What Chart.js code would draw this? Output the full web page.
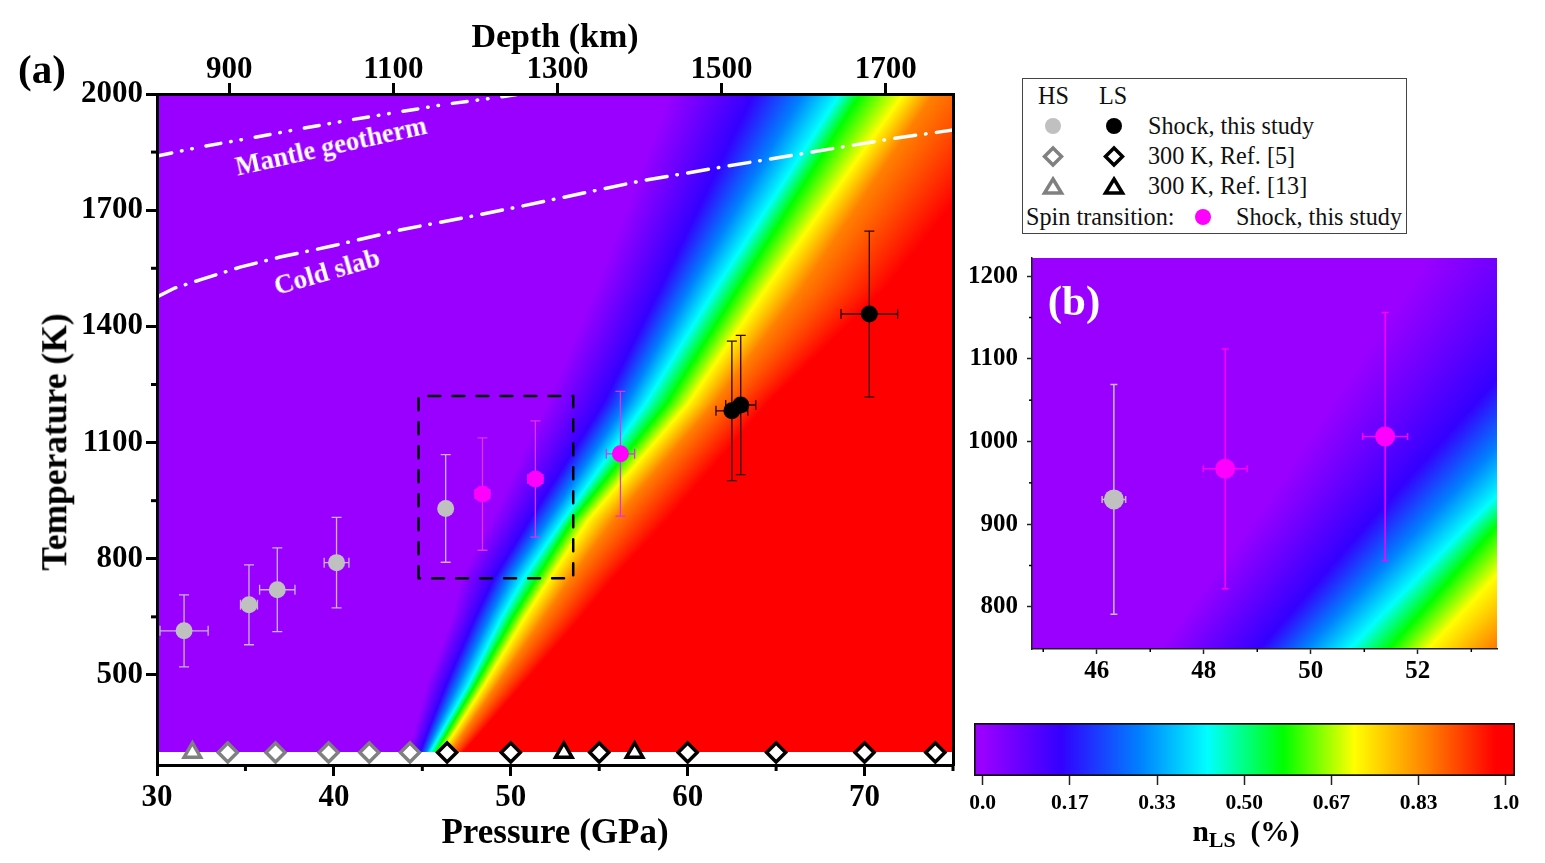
<!DOCTYPE html>
<html>
<head>
<meta charset="utf-8">
<title>Spin transition</title>
<script src="https://cdn.jsdelivr.net/npm/chart.js@4/dist/chart.umd.js"></script>
<style>
  html, body { margin: 0; padding: 0; background: #fff; overflow: hidden; }
  body { width: 1545px; height: 863px; position: relative; font-family: "Liberation Serif", serif; }
  canvas { position: absolute; display: block; }
  .txt { position: absolute; white-space: nowrap; transform: translate(-50%, -50%); line-height: 1; }
  .b { font-weight: bold; }
  .wht { color: #fff; }
  #legend { position: absolute; left: 1022px; top: 78px; width: 383px; height: 154px; border: 1px solid #444; box-sizing: content-box; }
  #legend .row { position: absolute; font-size: 24.2px; line-height: 1; white-space: nowrap; color: #111; transform: translateY(-50%); }
  #legend svg { position: absolute; overflow: visible; }
</style>
</head>
<body>
<canvas id="mainChart" width="1000" height="863" style="left:0;top:0"></canvas>
<canvas id="insetChart" width="550" height="462" style="left:960px;top:238px"></canvas>
<canvas id="barChart" width="575" height="115" style="left:960px;top:715px"></canvas>

<div class="txt b" style="left:42px;top:69px;font-size:41px">(a)</div>
<div class="txt b wht" style="left:1074px;top:300px;font-size:43px">(b)</div>
<div class="txt b" style="left:55px;top:442px;font-size:35.5px;transform:translate(-50%,-50%) rotate(-90deg)">Temperature (K)</div>
<div class="txt b wht" style="left:331px;top:146px;font-size:26.5px;transform:translate(-50%,-50%) rotate(-12.5deg)">Mantle geotherm</div>
<div class="txt b wht" style="left:327px;top:272px;font-size:27px;transform:translate(-50%,-50%) rotate(-16deg)">Cold slab</div>
<div class="txt b" style="left:1246px;top:834px;font-size:29.5px">n<sub style="font-size:22px">LS</sub>&nbsp;&nbsp;(%)</div>

<div id="legend">
  <div class="row" style="left:15px;top:17px">HS</div>
  <div class="row" style="left:76px;top:17px">LS</div>
  <div class="row" style="left:125px;top:47px">Shock, this study</div>
  <div class="row" style="left:125px;top:77px">300 K, Ref. [5]</div>
  <div class="row" style="left:125px;top:107px">300 K, Ref. [13]</div>
  <div class="row" style="left:3px;top:138px">Spin transition:</div>
  <div class="row" style="left:213px;top:138px">Shock, this study</div>
  <svg style="left:0;top:0" width="383" height="154">
    <circle cx="30" cy="47" r="8" fill="#c0c0c0"/>
    <circle cx="91" cy="47" r="8" fill="#000"/>
    <path d="M30 69 L38.5 77.5 L30 86 L21.5 77.5 Z" fill="#fff" stroke="#808080" stroke-width="3.5"/>
    <path d="M91 69 L99.5 77.5 L91 86 L82.5 77.5 Z" fill="#fff" stroke="#000" stroke-width="3.5"/>
    <path d="M30 100 L38.5 114 L21.5 114 Z" fill="#fff" stroke="#808080" stroke-width="3.5"/>
    <path d="M91 100 L99.5 114 L82.5 114 Z" fill="#fff" stroke="#000" stroke-width="3.5"/>
    <circle cx="180" cy="138" r="8" fill="#ff00ff"/>
  </svg>
</div>

<script>
// Shock data
const hsP = [31.53, 35.2, 36.8, 40.15, 46.32];
const hsT = [614, 681, 720, 790, 930];
const hsPErr = [1.36, 0.48, 1.0, 0.7, 0.22];
const hsTErr = [93, 103, 108, 117, 139];

const spinP = [48.4, 51.39, 56.2];
const spinT = [967, 1006, 1071];
const spinPErr = [0.41, 0.42, 0.8];
const spinTErr = [145, 150, 161];

const lsP = [62.5, 63.0, 70.27];
const lsT = [1182, 1197, 1432];
const lsPErr = [0.9, 0.85, 1.6];
const lsTErr = [180, 180, 214];

// 300 K references
const hsDiamondP = [34, 36.7, 39.7, 42, 44.3];
const lsDiamondP = [46.4, 50, 55, 60, 65, 70, 74];
const hsTriangleP = [32];
const lsTriangleP = [53, 57];
const roomT = 300;

// Geotherms
const mantleP = [30, 32.43, 35.26, 38.09, 40.92, 43.74, 46.4, 49.4, 50.53];
const mantleT = [1840, 1863, 1886, 1910, 1933, 1954, 1974, 1992, 2000];
const slabP = [30, 31, 32.43, 34.7, 36.96, 39.95, 43.74, 47.53, 50.36, 57.3, 62, 66.76, 71.46, 75];
const slabT = [1476, 1499, 1520, 1553, 1579, 1608, 1649, 1682, 1708, 1775, 1812, 1848, 1884, 1907];

// Zoom box of panel (b)
const boxP = [44.78, 44.78, 53.53, 53.53, 44.78];
const boxT = [750, 1220, 1220, 750, 750];

// nLS contours: pressure (GPa) of each level at each temperature row
const contourT = [300, 365, 470, 650, 750, 900, 1200, 1500, 2000];
const contourLevels = [0, 0.15, 0.30, 0.43, 0.575, 0.71, 0.85, 0.98];
const contourColors = ['#9900ff', '#3300ff', '#0080ff', '#00ffff', '#00ff00', '#ffff00', '#ff8000', '#ff0000'];
const contourP = [
  [44.2, 44.6, 45.2, 46.7, 47.2, 48.9, 52.0, 54.8, 59.0],
  [44.88, 45.4, 46.3, 48.0, 49.05, 51.05, 55.2, 58.45, 63.7],
  [45.2, 45.85, 46.95, 48.8, 49.9, 52.1, 56.5, 60.1, 66.5],
  [45.44, 46.25, 47.55, 49.5, 50.73, 52.95, 57.6, 61.6, 68.6],
  [45.75, 46.57, 47.93, 50.13, 51.48, 53.5, 58.8, 62.9, 69.76],
  [46.05, 47.0, 48.44, 50.8, 52.2, 54.35, 60.0, 64.45, 72.2],
  [46.6, 47.56, 49.15, 51.9, 53.4, 55.8, 61.5, 66.5, 73.9],
  [47.3, 48.56, 50.55, 54.0, 55.8, 58.85, 64.5, 71.2, 80.0]
];

// Axis ticks
const pressureTicks = [30, 40, 50, 60, 70];
const pressureMinor = [35, 45, 55, 65, 75];
const depthTicks = [900, 1100, 1300, 1500, 1700];
const tempTicks = [500, 800, 1100, 1400, 1700, 2000];
const tempMinor = [650, 950, 1250, 1550, 1850];
const insetPTicks = [46, 48, 50, 52];
const insetPMinor = [45, 47, 49, 51, 53];
const insetTTicks = [800, 900, 1000, 1100, 1200];
const insetTMinor = [850, 950, 1050, 1150];
const barTicks = [0, 1 / 6, 1 / 3, 1 / 2, 2 / 3, 5 / 6, 1];
const barLabels = ['0.0', '0.17', '0.33', '0.50', '0.67', '0.83', '1.0'];

const SERIF = '"Liberation Serif", serif';

function zip(xs, ys) {
  return xs.map((x, i) => ({ x: x, y: ys[i] }));
}

function atRoomT(ps) {
  return ps.map(p => ({ x: p, y: roomT }));
}

function setTicks(values) {
  return scale => { scale.ticks = values.map(v => ({ value: v })); };
}

function plainLabel(v) {
  return String(v);
}

function contourAt(levelIdx, t) {
  const row = contourP[levelIdx];
  let i = 0;
  while (i < contourT.length - 2 && t > contourT[i + 1]) i++;
  const f = (t - contourT[i]) / (contourT[i + 1] - contourT[i]);
  return row[i] + (row[i + 1] - row[i]) * f;
}

// Paints the nLS map row by row, colour stops sitting on the contours
const heatmapPlugin = {
  id: 'heatmap',
  beforeDatasetsDraw(chart) {
    const { ctx, chartArea: area, scales } = chart;
    const yTop = Math.floor(area.top);
    const yEnd = Math.min(Math.round(scales.y.getPixelForValue(roomT)), Math.ceil(area.bottom));
    ctx.save();
    ctx.beginPath();
    ctx.rect(area.left, area.top, area.width, area.height);
    ctx.clip();
    for (let py = yTop; py < yEnd; py++) {
      const t = Math.max(roomT, scales.y.getValueForPixel(py + 0.5));
      const pix = contourColors.map((c, i) => scales.x.getPixelForValue(contourAt(i, t)));
      const x0 = pix[0];
      const x1 = pix[pix.length - 1];
      const grad = ctx.createLinearGradient(x0, 0, x1, 0);
      pix.forEach((x, i) => grad.addColorStop((x - x0) / (x1 - x0), contourColors[i]));
      ctx.fillStyle = grad;
      ctx.fillRect(area.left, py, area.width, 1);
    }
    ctx.restore();
  }
};

// Error bars with caps, under the markers
const errorBarPlugin = {
  id: 'errorBars',
  beforeDatasetsDraw(chart, args, opts) {
    const { ctx, chartArea: area, scales } = chart;
    ctx.save();
    ctx.beginPath();
    ctx.rect(area.left, area.top, area.width, area.height);
    ctx.clip();
    opts.groups.forEach(g => {
      ctx.strokeStyle = g.color;
      ctx.lineWidth = opts.lineWidth;
      g.p.forEach((p, i) => {
        const x = scales.x.getPixelForValue(p);
        const y = scales.y.getPixelForValue(g.t[i]);
        const xa = scales.x.getPixelForValue(p - g.pe[i]);
        const xb = scales.x.getPixelForValue(p + g.pe[i]);
        const ya = scales.y.getPixelForValue(g.t[i] - g.te[i]);
        const yb = scales.y.getPixelForValue(g.t[i] + g.te[i]);
        const c = opts.cap;
        ctx.beginPath();
        ctx.moveTo(x, ya); ctx.lineTo(x, yb);
        ctx.moveTo(x - c, ya); ctx.lineTo(x + c, ya);
        ctx.moveTo(x - c, yb); ctx.lineTo(x + c, yb);
        ctx.moveTo(xa, y); ctx.lineTo(xb, y);
        ctx.moveTo(xa, y - c); ctx.lineTo(xa, y + c);
        ctx.moveTo(xb, y - c); ctx.lineTo(xb, y + c);
        ctx.stroke();
      });
    });
    ctx.restore();
  }
};

// Short unlabelled ticks (Chart.js has one tick length per axis)
const minorTickPlugin = {
  id: 'minorTicks',
  afterDraw(chart, args, opts) {
    const { ctx, chartArea: area, scales } = chart;
    ctx.save();
    ctx.strokeStyle = '#000';
    ctx.lineWidth = opts.width;
    opts.x.forEach(v => {
      const x = scales.x.getPixelForValue(v);
      ctx.beginPath(); ctx.moveTo(x, area.bottom); ctx.lineTo(x, area.bottom + opts.length); ctx.stroke();
    });
    opts.y.forEach(v => {
      const y = scales.y.getPixelForValue(v);
      ctx.beginPath(); ctx.moveTo(area.left, y); ctx.lineTo(area.left - opts.length, y); ctx.stroke();
    });
    ctx.restore();
  }
};

const mainErrors = [
  { p: hsP, t: hsT, pe: hsPErr, te: hsTErr, color: '#c8b4dc' },
  { p: spinP, t: spinT, pe: spinPErr, te: spinTErr, color: '#e030f0' },
  { p: lsP, t: lsT, pe: lsPErr, te: lsTErr, color: '#300000' }
];
const insetErrors = [
  { p: hsP, t: hsT, pe: hsPErr, te: hsTErr, color: '#c0c0c0' },
  { p: spinP, t: spinT, pe: spinPErr, te: spinTErr, color: '#ff00ff' }
];

function dotSet(label, data, color, radius) {
  return { label: label, data: data, pointStyle: 'circle', pointRadius: radius, pointBackgroundColor: color, pointBorderWidth: 0, showLine: false };
}

function refSet(label, data, style, color, radius) {
  return { label: label, data: data, pointStyle: style, pointRadius: radius, pointBackgroundColor: '#fff', pointBorderColor: color, pointBorderWidth: 3.5, showLine: false };
}

function lineSet(label, data, color, dash, width) {
  return { label: label, data: data, showLine: true, pointRadius: 0, borderColor: color, borderWidth: width, borderDash: dash, borderCapStyle: 'round', fill: false, tension: 0 };
}

const tickFont = { family: SERIF, size: 31, weight: 'bold' };

new Chart(document.getElementById('mainChart'), {
  type: 'scatter',
  data: {
    datasets: [
      dotSet('HS shock', zip(hsP, hsT), '#c0c0c0', 8.5),
      dotSet('Spin transition', zip(spinP, spinT), '#ff00ff', 8.5),
      dotSet('LS shock', zip(lsP, lsT), '#000', 8.5),
      refSet('HS Ref. 5', atRoomT(hsDiamondP), 'rectRot', '#808080', 9.5),
      refSet('LS Ref. 5', atRoomT(lsDiamondP), 'rectRot', '#000', 9.5),
      refSet('HS Ref. 13', atRoomT(hsTriangleP), 'triangle', '#808080', 9.5),
      refSet('LS Ref. 13', atRoomT(lsTriangleP), 'triangle', '#000', 9.5),
      lineSet('Zoom box', zip(boxP, boxT), '#000', [12, 12], 2.5),
      lineSet('Mantle geotherm', zip(mantleP, mantleT), '#fff', [15, 10, 0.5, 10, 0.5, 14], 3.5),
      lineSet('Cold slab', zip(slabP, slabT), '#fff', [21, 10, 0.5, 10.5], 3.5)
    ]
  },
  options: {
    responsive: false,
    animation: false,
    layout: { padding: { left: 0, right: 47, top: 0, bottom: 0 } },
    plugins: {
      legend: { display: false },
      tooltip: { enabled: false },
      errorBars: { groups: mainErrors, lineWidth: 1.3, cap: 5 },
      minorTicks: { x: pressureMinor, y: tempMinor, length: 6, width: 3 }
    },
    scales: {
      x: {
        type: 'linear', position: 'bottom', min: 30, max: 75,
        afterBuildTicks: setTicks(pressureTicks),
        afterFit: s => { s.height = 98; },
        border: { color: '#000', width: 3, z: 1 },
        grid: { drawOnChartArea: false, tickColor: '#000', tickWidth: 3, tickLength: 11 },
        ticks: { font: tickFont, color: '#000', padding: 3, maxRotation: 0, autoSkip: false, callback: plainLabel },
        title: { display: true, text: 'Pressure (GPa)', font: { family: SERIF, size: 35, weight: 'bold' }, color: '#000', padding: { top: 0, bottom: 8 } }
      },
      xTop: {
        type: 'linear', position: 'top', min: 812, max: 1782,
        afterBuildTicks: setTicks(depthTicks),
        afterFit: s => { s.height = 94; },
        border: { color: '#000', width: 3, z: 1 },
        grid: { drawOnChartArea: false, tickColor: '#000', tickWidth: 3, tickLength: 11 },
        ticks: { font: tickFont, color: '#000', padding: -6, maxRotation: 0, autoSkip: false, callback: plainLabel },
        title: { display: true, text: 'Depth (km)', font: { family: SERIF, size: 34, weight: 'bold' }, color: '#000', padding: { top: 18, bottom: 0 } }
      },
      y: {
        type: 'linear', position: 'left', min: 267.5, max: 2000,
        afterBuildTicks: setTicks(tempTicks),
        afterFit: s => { s.width = 157; },
        border: { color: '#000', width: 3, z: 1 },
        grid: { drawOnChartArea: false, tickColor: '#000', tickWidth: 3, tickLength: 11 },
        ticks: { font: tickFont, color: '#000', padding: 3, autoSkip: false, callback: plainLabel }
      },
      yRight: {
        type: 'linear', position: 'right', min: 267.5, max: 2000,
        afterFit: s => { s.width = 0; },
        border: { color: '#000', width: 3, z: 1 },
        grid: { drawOnChartArea: false, drawTicks: false },
        ticks: { display: false }
      }
    }
  },
  plugins: [heatmapPlugin, errorBarPlugin, minorTickPlugin]
});

const insetFont = { family: SERIF, size: 25, weight: 'bold' };

new Chart(document.getElementById('insetChart'), {
  type: 'scatter',
  data: {
    datasets: [
      dotSet('HS shock', zip(hsP, hsT), '#c0c0c0', 10),
      dotSet('Spin transition', zip(spinP, spinT), '#ff00ff', 10)
    ]
  },
  options: {
    responsive: false,
    animation: false,
    layout: { padding: { left: 0, right: 13, top: 20, bottom: 0 } },
    plugins: {
      legend: { display: false },
      tooltip: { enabled: false },
      errorBars: { groups: insetErrors, lineWidth: 1.5, cap: 3.5 },
      minorTicks: { x: insetPMinor, y: insetTMinor, length: 3, width: 1.5 }
    },
    scales: {
      x: {
        type: 'linear', position: 'bottom', min: 44.79, max: 53.48,
        afterBuildTicks: setTicks(insetPTicks),
        afterFit: s => { s.height = 51; },
        border: { color: '#222', width: 1.5, z: 1 },
        grid: { drawOnChartArea: false, tickColor: '#222', tickWidth: 1.5, tickLength: 5 },
        ticks: { font: insetFont, color: '#000', padding: 3, maxRotation: 0, autoSkip: false, callback: plainLabel }
      },
      y: {
        type: 'linear', position: 'left', min: 749, max: 1222,
        afterBuildTicks: setTicks(insetTTicks),
        // labels must not push the plot area down
        afterFit: s => { s.width = 72; s.paddingTop = 0; s.paddingBottom = 0; },
        border: { color: '#222', width: 1.5, z: 1 },
        grid: { drawOnChartArea: false, tickColor: '#222', tickWidth: 1.5, tickLength: 5 },
        ticks: { font: insetFont, color: '#000', padding: 9, autoSkip: false, callback: plainLabel }
      }
    }
  },
  plugins: [heatmapPlugin, errorBarPlugin, minorTickPlugin]
});

new Chart(document.getElementById('barChart'), {
  type: 'bar',
  data: {
    labels: ['nLS'],
    datasets: [{
      label: 'nLS',
      data: [[-0.0165, 1.0175]],
      barPercentage: 1,
      categoryPercentage: 1,
      borderColor: '#111',
      borderWidth: 2,
      borderSkipped: false,
      backgroundColor: ctx => {
        const x = ctx.chart.scales.x;
        const last = contourLevels.length - 1;
        const x0 = x.getPixelForValue(contourLevels[0]);
        const x1 = x.getPixelForValue(contourLevels[last]);
        // the first option pass runs before layout, pixels are not known yet
        if (!Number.isFinite(x0) || !Number.isFinite(x1)) return contourColors[0];
        const grad = ctx.chart.ctx.createLinearGradient(x0, 0, x1, 0);
        contourLevels.forEach((v, i) => grad.addColorStop(v / contourLevels[last], contourColors[i]));
        return grad;
      }
    }]
  },
  options: {
    indexAxis: 'y',
    responsive: false,
    animation: false,
    layout: { padding: { left: 14, right: 20, top: 8, bottom: 0 } },
    plugins: { legend: { display: false }, tooltip: { enabled: false } },
    scales: {
      x: {
        type: 'linear', min: -0.0165, max: 1.0175,
        afterBuildTicks: setTicks(barTicks),
        afterFit: s => { s.height = 54; },
        border: { display: false },
        grid: { drawOnChartArea: false, tickColor: '#222', tickWidth: 1.5, tickLength: 9 },
        ticks: {
          font: { family: SERIF, size: 21.5, weight: 'bold' }, color: '#000', padding: 6, maxRotation: 0, autoSkip: false,
          callback: (v, i) => barLabels[i]
        }
      },
      y: { display: false }
    }
  }
});
</script>
</body>
</html>
